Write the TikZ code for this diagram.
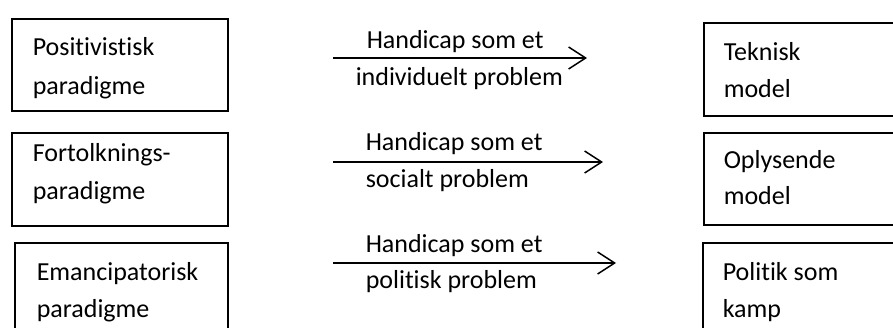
\documentclass[tikz,border=0pt]{standalone}
\usepackage{fontspec}
\setmainfont{Carlito}[Ligatures=NoCommon]
\usetikzlibrary{arrows.meta}

\begin{document}
\begin{tikzpicture}[x=1pt, y=-1pt, line width=1.5pt,
  box/.style={draw, anchor=north west, inner sep=0pt},
  txt/.style={anchor=base west, inner sep=0pt, font=\fontsize{26}{38}\selectfont},
  arr/.style={-{Straight Barb[length=17pt, width=22pt]}}]
\useasboundingbox (0,0) rectangle (893,327);
\clip (0,0) rectangle (893,327);

% paradigms
\node[box, minimum width=216pt, minimum height=92pt] (pos) at (11,18) {};
\node[box, minimum width=216pt, minimum height=93pt] (fort) at (11,132) {};
\node[box, minimum width=213pt, minimum height=100pt] (eman) at (14,242) {};
\node[txt] (posA) at (32,55) {Positivistisk};
\node[txt] (posB) at (32,94) {paradigme};
\node[txt] (fortA) at (32,161) {Fortolknings-};
\node[txt] (fortB) at (32,199) {paradigme};
\node[txt] (emanA) at (36,280) {Emancipatorisk};
\node[txt] (emanB) at (36,317) {paradigme};

% models
\node[box, minimum width=200pt, minimum height=93pt] (tek) at (703,22) {};
\node[box, minimum width=200pt, minimum height=92pt] (oply) at (703,132) {};
\node[box, minimum width=200pt, minimum height=100pt] (kamp) at (702,242) {};
\node[txt] (tekA) at (723,60) {Teknisk};
\node[txt] (tekB) at (723,97) {model};
\node[txt] (oplyA) at (723,168) {Oplysende};
\node[txt] (oplyB) at (723,204) {model};
\node[txt] (kampA) at (722,280) {Politik som};
\node[txt] (kampB) at (722,317) {kamp};

% arrows
\coordinate (a1) at (333,58);  \coordinate (b1) at (587,58);
\coordinate (a2) at (333,162); \coordinate (b2) at (603,162);
\coordinate (a3) at (333,263); \coordinate (b3) at (616,263);
\draw[arr] (a1) -- (b1);
\draw[arr] (a2) -- (b2);
\draw[arr] (a3) -- (b3);
\node[txt] (h1) at (366,48) {Handicap som et};
\node[txt] (ind) at (355,85) {individuelt problem};
\node[txt] (h2) at (365,150) {Handicap som et};
\node[txt] (soc) at (365,187) {socialt problem};
\node[txt] (h3) at (365,252) {Handicap som et};
\node[txt] (pol) at (365,288) {politisk problem};
\end{tikzpicture}
\end{document}
